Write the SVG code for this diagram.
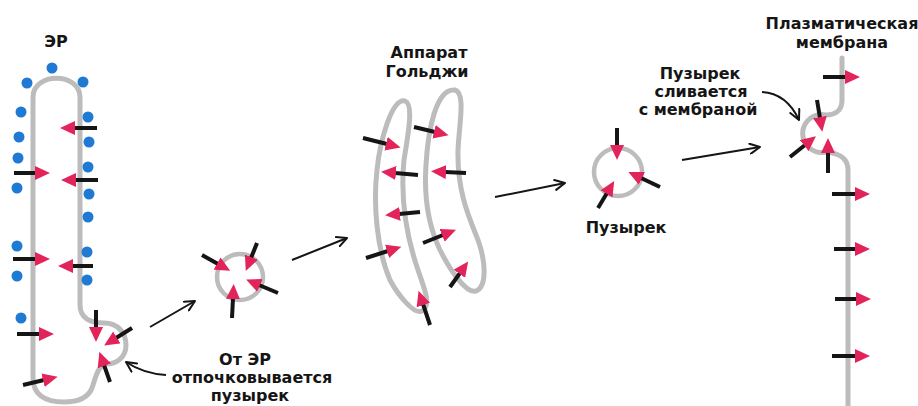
<svg xmlns="http://www.w3.org/2000/svg" width="918" height="406" viewBox="0 0 918 406">
  <style>
    .mem { fill: none; stroke: #bcbcbc; stroke-width: 5; stroke-linecap: round; stroke-linejoin: round; }
    .ves { fill: #ffffff; stroke: #bcbcbc; stroke-width: 4.5; }
    .dot { fill: #1f7ad4; }
    .bar { fill: none; stroke: #151515; stroke-width: 4; marker-end: url(#tri); }
    .link { fill: none; stroke: #151515; stroke-width: 2; marker-end: url(#open); }
    .lbl { font-family: "DejaVu Sans", "Liberation Sans", sans-serif; font-weight: bold; font-size: 16px; fill: #151515; text-anchor: middle; }
  </style>
  <defs>
    <!-- red protein triangle at the end of each black stalk -->
    <marker id="tri" markerUnits="userSpaceOnUse" viewBox="0 0 16 14" markerWidth="16" markerHeight="14" refX="1" refY="7" orient="auto">
      <path d="M0,0 L15,7 L0,14 Z" fill="#e2245a"/>
    </marker>
    <!-- open arrowhead for transport arrows -->
    <marker id="open" markerUnits="userSpaceOnUse" viewBox="0 0 12 12" markerWidth="12" markerHeight="12" refX="11" refY="6" orient="auto">
      <path d="M1,1 L11,6 L1,11" fill="none" stroke="#151515" stroke-width="2" stroke-linecap="round" stroke-linejoin="round"/>
    </marker>
  </defs>
  <rect width="918" height="406" fill="#ffffff"/>

  <!-- endoplasmic reticulum with ribosomes and a budding vesicle -->
  <g id="er">
    <path class="mem" d="M33 97 C33 72 80 72 80 97 L80 305 C80 318 90 323 104 323 C118 323 126 333 126 345 C126 358 116 364 106 364 C98 366 96 376 92 388 C88 398 78 402 64 402 C44 402 33 394 33 378 Z"/>
    <g class="ribosomes">
      <circle class="dot" cx="52" cy="68" r="5.5"/>
      <circle class="dot" cx="27" cy="83" r="5.5"/>
      <circle class="dot" cx="83" cy="82" r="5.5"/>
      <circle class="dot" cx="21" cy="112" r="5.5"/>
      <circle class="dot" cx="19" cy="137" r="5.5"/>
      <circle class="dot" cx="18" cy="158" r="5.5"/>
      <circle class="dot" cx="17" cy="188" r="5.5"/>
      <circle class="dot" cx="17" cy="246" r="5.5"/>
      <circle class="dot" cx="17" cy="276" r="5.5"/>
      <circle class="dot" cx="21" cy="318" r="5.5"/>
      <circle class="dot" cx="88" cy="117" r="5.5"/>
      <circle class="dot" cx="89" cy="142" r="5.5"/>
      <circle class="dot" cx="88" cy="167" r="5.5"/>
      <circle class="dot" cx="89" cy="194" r="5.5"/>
      <circle class="dot" cx="88" cy="217" r="5.5"/>
      <circle class="dot" cx="87" cy="252" r="5.5"/>
      <circle class="dot" cx="87" cy="280" r="5.5"/>
    </g>
    <path class="bar" d="M97 128 L74 128"/>
    <path class="bar" d="M14 173 L36 173"/>
    <path class="bar" d="M98 180 L75 180"/>
    <path class="bar" d="M13 259 L36 259"/>
    <path class="bar" d="M93 266 L72 266"/>
    <path class="bar" d="M17 334 L40 334"/>
    <path class="bar" d="M23 385 L44 380"/>
    <path class="bar" d="M96 310 L96 328"/>
    <path class="bar" d="M132 328 L116 338"/>
    <path class="bar" d="M110 382 L104 365"/>
    <text class="lbl" x="56" y="47">ЭР</text>
  </g>

  <!-- free transport vesicle leaving the ER -->
  <g id="vesicle-er">
    <circle class="ves" cx="240" cy="277" r="23"/>
    <path class="bar" d="M202 255 L218 264"/>
    <path class="bar" d="M257 243 L251 258"/>
    <path class="bar" d="M278 293 L259 285"/>
    <path class="bar" d="M232 318 L233 298"/>
    <text class="lbl" x="245" y="365">От ЭР</text>
    <text class="lbl" x="252" y="383">отпочковывается</text>
    <text class="lbl" x="250" y="401">пузырек</text>
  </g>

  <!-- Golgi apparatus: two curved cisternae -->
  <g id="golgi">
    <path class="mem" d="M405 101 C414 104 408 135 404 160 C400 200 406 235 418 270 C424 288 432 305 422 311 C414 315 398 295 390 280 C377 250 373 205 377 170 C380 140 392 98 405 101 Z"/>
    <path class="mem" d="M455 90 C466 93 459 125 458 150 C457 190 468 215 478 240 C486 262 487 287 476 291 C466 294 450 270 440 250 C428 225 424 195 426 165 C428 130 436 88 455 90 Z"/>
    <path class="bar" d="M363 138 L387 144"/>
    <path class="bar" d="M418 175 L395 173"/>
    <path class="bar" d="M420 212 L399 214"/>
    <path class="bar" d="M366 258 L388 251"/>
    <path class="bar" d="M430 325 L423 304"/>
    <path class="bar" d="M414 127 L435 132"/>
    <path class="bar" d="M466 173 L445 172"/>
    <path class="bar" d="M423 243 L443 235"/>
    <path class="bar" d="M450 287 L460 273"/>
    <text class="lbl" x="429" y="58">Аппарат</text>
    <text class="lbl" x="427" y="77">Гольджи</text>
  </g>

  <!-- secretory vesicle from the Golgi -->
  <g id="vesicle-golgi">
    <circle class="ves" cx="618" cy="172" r="24"/>
    <path class="bar" d="M617 128 L617 146"/>
    <path class="bar" d="M660 187 L641 178"/>
    <path class="bar" d="M598 208 L607 193"/>
    <text class="lbl" x="626" y="233">Пузырек</text>
  </g>

  <!-- plasma membrane with a fusing vesicle -->
  <g id="plasma-membrane">
    <path class="mem" d="M842 58 L842 100 C842 110 836 115 826 115 A19 19 0 1 0 826 152 C836 153 848 156 848 170 L848 406"/>
    <path class="bar" d="M823 77 L846 77"/>
    <path class="bar" d="M817 100 L820 118"/>
    <path class="bar" d="M790 157 L805 145"/>
    <path class="bar" d="M828 173 L828 152"/>
    <path class="bar" d="M832 194 L856 194"/>
    <path class="bar" d="M834 249 L856 249"/>
    <path class="bar" d="M835 299 L857 299"/>
    <path class="bar" d="M832 356 L856 356"/>
    <text class="lbl" x="842" y="29">Плазматическая</text>
    <text class="lbl" x="842" y="48">мембрана</text>
    <text class="lbl" x="700" y="79">Пузырек</text>
    <text class="lbl" x="701" y="97">сливается</text>
    <text class="lbl" x="698" y="115">с мембраной</text>
  </g>

  <!-- transport arrows and label pointers -->
  <g id="connectors">
    <path class="link" d="M150 327 L195 301"/>
    <path class="link" d="M292 260 L347 238"/>
    <path class="link" d="M495 197 L565 183"/>
    <path class="link" d="M682 160 L760 147"/>
    <path class="link" d="M166 375 C150 374 138 370 126 362"/>
    <path class="link" d="M762 92 C780 93 792 105 799 120"/>
  </g>
</svg>
